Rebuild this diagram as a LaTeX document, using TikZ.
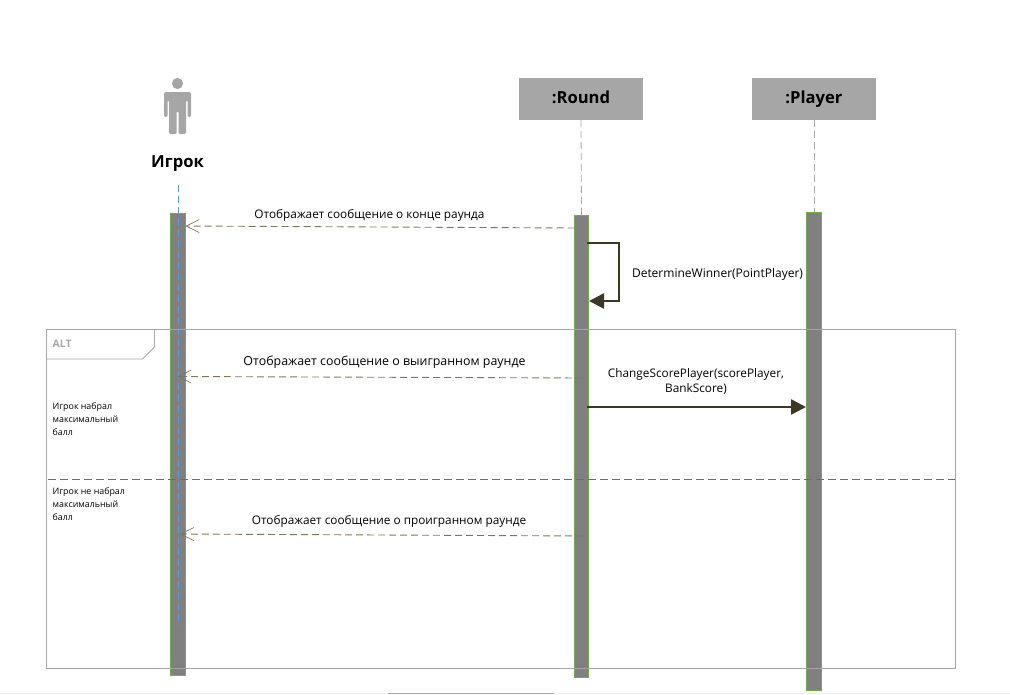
\documentclass[tikz,border=0pt]{standalone}
\usepackage{fontspec}
\setmainfont{Open Sans}
\usetikzlibrary{arrows.meta,positioning}
\definecolor{headgray}{HTML}{A6A6A6}
\definecolor{bargray}{HTML}{808080}
\definecolor{bargreen}{HTML}{70AD47}
\definecolor{msgbrown}{HTML}{7F7659}
\definecolor{calldark}{HTML}{3B3828}
\definecolor{lifeblue}{HTML}{5B9BD5}
\definecolor{altblue}{HTML}{4472C4}
\tikzset{
    head/.style={fill=headgray, minimum width=124pt, minimum height=42pt, inner sep=0pt, text height=12pt, text depth=3.5pt, font=\bfseries\fontsize{16.6}{20}\selectfont},
    bar/.style={fill=bargray, draw=bargreen, line width=1pt, inner sep=0pt, anchor=north},
    life/.style={draw=headgray, line width=.8pt, dash pattern=on 7pt off 4pt},
    msg/.style={draw=msgbrown, line width=.9pt, dash pattern=on 7pt off 4pt, -{Straight Barb[length=13pt,width=13pt,line width=.7pt]}},
    call/.style={draw=calldark, line width=2.6pt, -{Triangle[length=15pt,width=15pt]}},
    txt/.style={font=\fontsize{11.8}{15}\selectfont, inner sep=0pt, align=center},
    note/.style={font=\fontsize{8.85}{12.7}\selectfont, inner sep=0pt, align=left, anchor=north west},
}
\begin{document}
\begin{tikzpicture}[x=1pt,y=-1pt]
    \useasboundingbox (0,0) rectangle (1010,694);
    % headers
    \node [head] (round) at (581,99) {:Round};
    \node [head] (player) at (814,99) {:Player};
    % actor
    \fill [headgray] (177.5,83.5) circle (5.6);
    \fill [headgray, rounded corners=1.5pt] (164,92) -- (191,92) -- (191,117) -- (187.5,117) -- (187.5,100) -- (186,100) -- (186,134) -- (178.5,134) -- (178.5,111) -- (176.5,111) -- (176.5,134) -- (169,134) -- (169,100) -- (167.5,100) -- (167.5,117) -- (164,117) -- cycle;
    \node [font=\bfseries\fontsize{16.6}{20}\selectfont, inner sep=0pt] (actor) at (177.5,163.5) {Игрок};
    % activation bars
    \node [bar, minimum width=14.5pt, minimum height=462pt] (baractor) at (178,213) {};
    \node [bar, minimum width=13.5pt, minimum height=462pt] (barround) at (581.5,215) {};
    \node [bar, minimum width=15pt, minimum height=477.5pt] (barplayer) at (814,212) {};
    % lifelines
    \coordinate (actortop) at (178.5,185);
    \coordinate (actorend) at (178.5,626);
    \draw [life] (round.south) -- (barround.north);
    \draw [life] (player.south) -- (barplayer.north);
    \draw [life, draw=lifeblue] (actortop) -- (actorend);
    % ALT frame
    \node [draw=headgray, line width=.9pt, minimum width=909pt, minimum height=339pt, inner sep=0pt, anchor=north west] (frame) at (46,329) {};
    \draw [draw=headgray, line width=.9pt] (frame.north west) ++(108.5,0) -- ++(0,18) -- ++(-12,12) -- ++(-96.5,0);
    \node [font=\bfseries\fontsize{10.4}{12}\selectfont, text=headgray, inner sep=0pt, anchor=west] (alt) at (52.5,343.5) {ALT};
    \coordinate (divleft) at (48,479);
    \coordinate (divright) at (955,479);
    \draw [draw=altblue, line width=.9pt, dash pattern=on 8pt off 4pt] (divleft) -- (divright);
    \node [note] (won) at (52.5,403) {Игрок набрал\\максимальный\\балл};
    \node [note] (lost) at (52.5,488) {Игрок не набрал\\максимальный\\балл};
    % dashed replies
    \coordinate (endone) at (574.5,228);
    \coordinate (tipone) at (185.5,226);
    \coordinate (endtwo) at (583,378);
    \coordinate (tiptwo) at (177.5,376.5);
    \coordinate (endthree) at (583,536);
    \coordinate (tipthree) at (180,534);
    \draw [msg] (endone) -- (tipone);
    \draw [msg] (endtwo) -- (tiptwo);
    \draw [msg] (endthree) -- (tipthree);
    \node [txt] (textone) at (369.5,215) {Отображает сообщение о конце раунда};
    \node [txt, font=\fontsize{12.4}{15}\selectfont] (texttwo) at (384.5,362) {Отображает сообщение о выигранном раунде};
    \node [txt] (textthree) at (389,521.5) {Отображает сообщение о проигранном раунде};
    % calls
    \coordinate (selfout) at (587,243);
    \coordinate (selfin) at (589,301);
    \draw [call] (selfout) -- (619,243) -- (619,301) -- (selfin);
    \node [txt, font=\fontsize{12}{15}\selectfont] (textself) at (717.5,274) {DetermineWinner(PointPlayer)};
    \coordinate (callout) at (587,407);
    \draw [call] (callout) -- (callout -| barplayer.west);
    \node [txt] (textcall) at (696,381.5) {ChangeScorePlayer(scorePlayer,\\BankScore)};
    % page edge
    \fill [black!5] (0,693) rectangle (1010,694);
    \fill [headgray] (388,693) rectangle (554,694);
\end{tikzpicture}
\end{document}
